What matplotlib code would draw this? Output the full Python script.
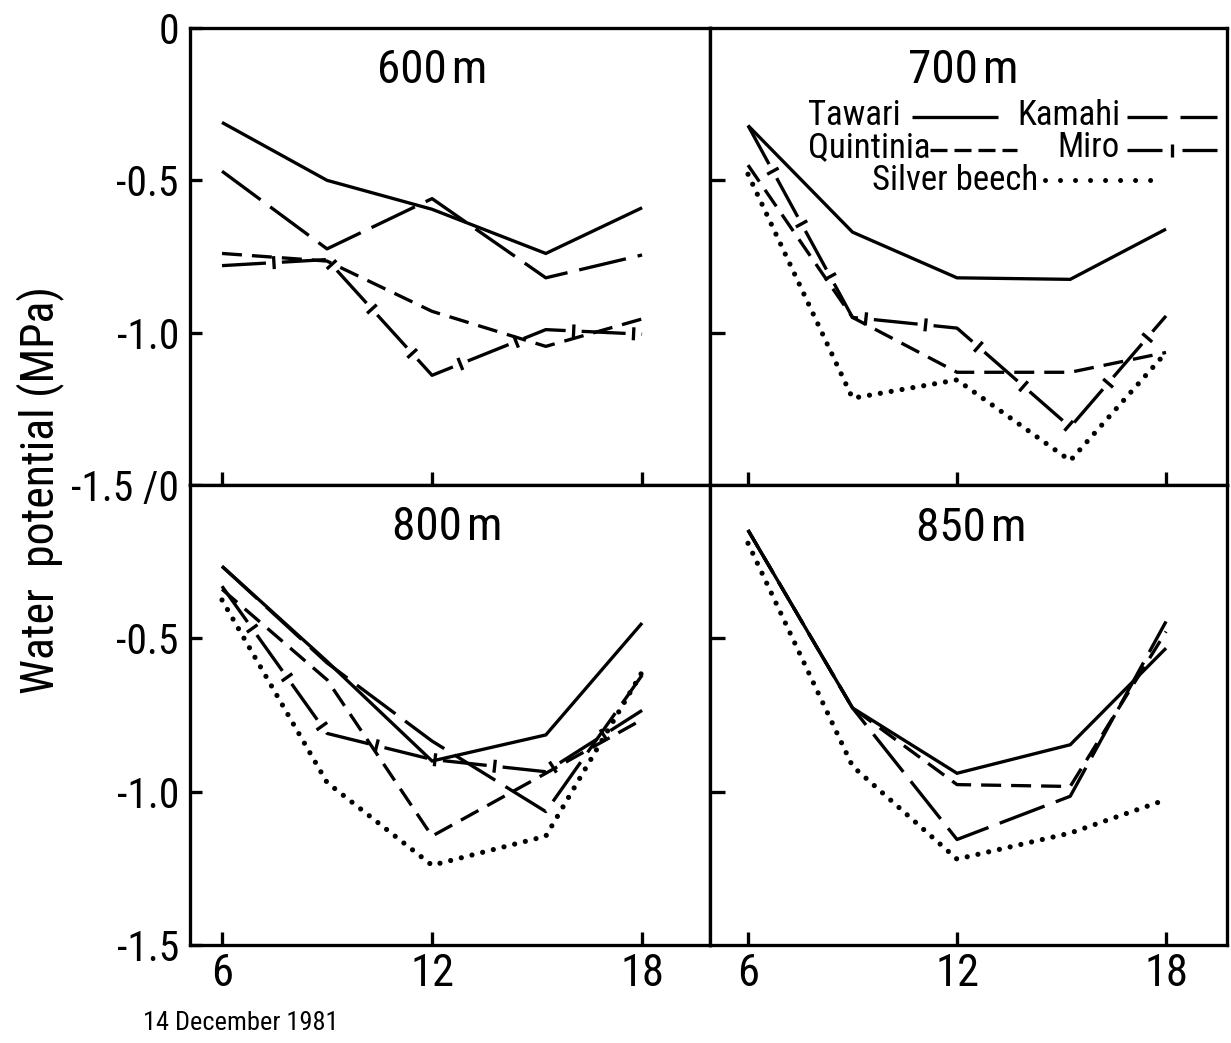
import numpy as np
import matplotlib
matplotlib.use("Agg")
import matplotlib.pyplot as plt
from matplotlib.collections import LineCollection

plt.rcParams['font.family'] = ['Roboto Condensed', 'Liberation Sans Narrow',
                               'DejaVu Sans']
plt.rcParams['font.stretch'] = 'condensed'
plt.rcParams['lines.scale_dashes'] = False

# Sampling times (hour of day, 14 December 1981)
hours = [6, 9, 12, 15.25, 18]

# Water potential (MPa) by species at each altitude
tawari_600 = [-0.31, -0.50, -0.595, -0.74, -0.59]
kamahi_600 = [-0.47, -0.725, -0.56, -0.82, -0.745]
quintinia_600 = [-0.74, -0.765, -0.93, -1.045, -0.955]
miro_600 = [-0.78, -0.76, -1.14, -0.99, -1.005]

tawari_700 = [-0.32, -0.67, -0.82, -0.825, -0.66]
quintinia_700 = [-0.45, -0.95, -1.13, -1.13, -1.065]
miro_700 = [-0.32, -0.95, -0.985, -1.31, -0.945]
beech_700 = [-0.48, -1.215, -1.155, -1.42, -1.065]

tawari_800 = [-0.265, -0.575, -0.90, -0.815, -0.45]
kamahi_800 = [-0.265, -0.58, -0.835, -1.065, -0.62]
quintinia_800 = [-0.34, -0.635, -1.145, -0.94, -0.765]
miro_800 = [-0.33, -0.81, -0.895, -0.935, -0.735]
beech_800 = [-0.375, -0.97, -1.24, -1.145, -0.61]

tawari_850 = [-0.147, -0.727, -0.94, -0.847, -0.532]
kamahi_850 = [-0.147, -0.727, -1.156, -1.015, -0.445]
quintinia_850 = [-0.147, -0.727, -0.977, -0.983, -0.478]
beech_850 = [-0.19, -0.917, -1.22, -1.135, -1.026]

panel_titles = ["600\u200am", "700\u200am", "800\u200am", "850\u200am"]
top_ytick_labels = ["0", "-0.5", "-1.0", "-1.5 /0"]
bottom_ytick_labels = ["-0.5", "-1.0", "-1.5"]
xtick_labels = ["6", "12", "18"]

W, H, DPI = 1231, 1043, 100
PX = 72.0 / DPI          # points per pixel
LW = 3.3 * PX

fig = plt.figure(figsize=(W / DPI, H / DPI), dpi=DPI)


def add_panel(x0, x1, y0, y1):
    return fig.add_axes([x0 / W, 1 - y1 / H, (x1 - x0) / W, (y1 - y0) / H])


ax600 = add_panel(190, 710, 28, 485)
ax700 = add_panel(710, 1227, 28, 485)
ax800 = add_panel(190, 710, 485, 945)
ax850 = add_panel(710, 1227, 485, 945)
left_axes = [ax600, ax800]
right_axes = [ax700, ax850]

for ax in left_axes:
    ax.set_xlim(5.086, 19.94)
for ax in right_axes:
    ax.set_xlim(4.909, 19.75)

for ax in (ax600, ax700, ax800, ax850):
    ax.set_ylim(-1.5, 0)
    ax.set_facecolor("white")
    for sp in ax.spines.values():
        sp.set_linewidth(LW)
        sp.set_color("black")
    ax.set_xticks([6, 12, 18])
    ax.tick_params(axis="x", direction="in", length=13 * PX, width=LW,
                   top=False, bottom=True, colors="black")
    ax.tick_params(axis="y", direction="in", width=LW, right=False,
                   left=True, colors="black")

# y ticks and labels
ax600.set_yticks([0, -0.5, -1.0, -1.5])
ax600.set_yticklabels(top_ytick_labels, fontsize=30)
ax800.set_yticks([-0.5, -1.0, -1.5])
ax800.set_yticklabels(bottom_ytick_labels, fontsize=30)
for ax in left_axes:
    ax.tick_params(axis="y", length=12 * PX, pad=8)
for ax in right_axes:
    ax.set_yticks([-0.5, -1.0])
    ax.tick_params(axis="y", length=15 * PX, labelleft=False)

# x tick labels only on the lower panels
for ax in (ax600, ax700):
    ax.tick_params(axis="x", labelbottom=False)
for ax in (ax800, ax850):
    ax.set_xticklabels(xtick_labels, fontsize=32)
    ax.tick_params(axis="x", pad=6)

STYLE = {
    "tawari": dict(linestyle="-"),
    "kamahi": dict(linestyle=(0, (48 * PX, 12 * PX)), dash_capstyle="butt"),
    "quintinia": dict(linestyle=(0, (20 * PX, 10 * PX)), dash_capstyle="butt"),
    "miro": dict(linestyle=(0, (44 * PX, 16 * PX)), dash_capstyle="butt"),
    "beech": dict(linestyle=(0, (0.01, 11 * PX)), dash_capstyle="round",
                  linewidth=5.2 * PX),
}
MIRO_DASH, MIRO_GAP, MIRO_HALF = 44, 16, 6.5


def cross_ticks(ax, xs, ys, dash_px, gap_px, half_px, transform=None):
    """Short perpendicular bars in the gaps of a dashed line."""
    tr = transform if transform is not None else ax.transData
    pts = tr.transform(np.column_stack([xs, ys]))
    seg = np.diff(pts, axis=0)
    seglen = np.hypot(seg[:, 0], seg[:, 1])
    cum = np.concatenate([[0.0], np.cumsum(seglen)])
    s = dash_px + gap_px / 2.0
    bars = []
    while s < cum[-1] - 1:
        i = int(np.clip(np.searchsorted(cum, s) - 1, 0, len(seglen) - 1))
        t = (s - cum[i]) / seglen[i]
        p = pts[i] + t * seg[i]
        d = seg[i] / seglen[i]
        n = np.array([-d[1], d[0]])
        bars.append(tr.inverted().transform(np.array([p - n * half_px,
                                                      p + n * half_px])))
        s += dash_px + gap_px
    ax.add_collection(LineCollection(bars, colors="black", linewidths=LW,
                                     transform=tr), autolim=False)


def draw(ax, kind, values):
    kw = dict(color="black", linewidth=LW, solid_joinstyle="miter",
              solid_capstyle="butt")
    kw.update(STYLE[kind])
    ax.plot(hours, values, **kw)
    if kind == "miro":
        cross_ticks(ax, hours, values, MIRO_DASH, MIRO_GAP, MIRO_HALF)


draw(ax600, "tawari", tawari_600)
draw(ax600, "kamahi", kamahi_600)
draw(ax600, "quintinia", quintinia_600)
draw(ax600, "miro", miro_600)

draw(ax700, "tawari", tawari_700)
draw(ax700, "quintinia", quintinia_700)
draw(ax700, "miro", miro_700)
draw(ax700, "beech", beech_700)

draw(ax800, "tawari", tawari_800)
draw(ax800, "kamahi", kamahi_800)
draw(ax800, "quintinia", quintinia_800)
draw(ax800, "miro", miro_800)
draw(ax800, "beech", beech_800)

draw(ax850, "tawari", tawari_850)
draw(ax850, "kamahi", kamahi_850)
draw(ax850, "quintinia", quintinia_850)
draw(ax850, "beech", beech_850)

# panel titles
TITLE_FS = 34
ax600.text(0.466, 0.880, panel_titles[0], transform=ax600.transAxes,
           ha="center", va="baseline", fontsize=TITLE_FS)
ax700.text(0.490, 0.880, panel_titles[1], transform=ax700.transAxes,
           ha="center", va="baseline", fontsize=TITLE_FS)
ax800.text(0.495, 0.880, panel_titles[2], transform=ax800.transAxes,
           ha="center", va="baseline", fontsize=TITLE_FS)
ax850.text(0.505, 0.878, panel_titles[3], transform=ax850.transAxes,
           ha="center", va="baseline", fontsize=TITLE_FS)

# key drawn inside the 700 m panel
T = ax700.transAxes
LEG_FS = 25
ax700.text(0.19, 0.788, "Tawari", transform=T, fontsize=LEG_FS, va="baseline")
ax700.text(0.594, 0.788, "Kamahi", transform=T, fontsize=LEG_FS, va="baseline")
ax700.text(0.19, 0.718, "Quintinia", transform=T, fontsize=LEG_FS, va="baseline")
ax700.text(0.671, 0.718, "Miro", transform=T, fontsize=LEG_FS, va="baseline")
ax700.text(0.313, 0.6455, "Silver beech", transform=T, fontsize=LEG_FS,
           va="baseline")

ax700.plot([0.3907, 0.557], [0.805, 0.805], transform=T, color="black",
           linewidth=LW, solid_capstyle="butt")
ax700.plot([0.8066, 0.9807], [0.805, 0.805], transform=T, color="black",
           linewidth=LW, linestyle=(0, (40 * PX, 13 * PX)), dash_capstyle="butt")
ax700.plot([0.4255, 0.5938], [0.733, 0.733], transform=T, color="black",
           linewidth=LW, linestyle=(0, (17 * PX, 7 * PX)), dash_capstyle="butt")
miro_key_x = [0.8066, 0.9807]
miro_key_y = [0.733, 0.733]
ax700.plot(miro_key_x, miro_key_y, transform=T, color="black", linewidth=LW,
           linestyle=(0, (35 * PX, 20 * PX)), dash_capstyle="butt")
cross_ticks(ax700, miro_key_x, miro_key_y, 35, 20, 6.5, transform=T)
ax700.plot([0.648, 0.858], [0.667, 0.667], transform=T, color="black",
           linewidth=5 * PX, linestyle=(0, (0.01, 15 * PX)),
           dash_capstyle="round")

# shared axis annotations
fig.text(40 / W, 1 - 490 / H, "Water  potential (MPa)", rotation=90,
         ha="center", va="center", fontsize=33)
fig.text(143 / W, 1 - 1030 / H, "14 December 1981", ha="left",
         va="baseline", fontsize=19)

fig.savefig("out.png", dpi=DPI, facecolor="white")
